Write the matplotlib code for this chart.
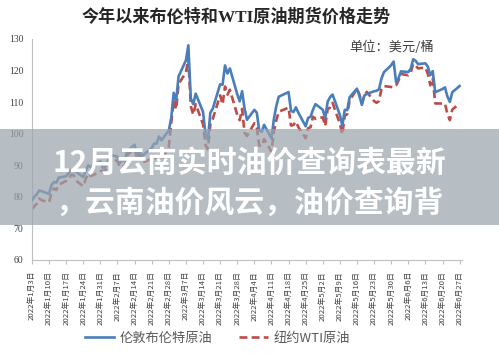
import numpy as np
import pandas as pd
import matplotlib
matplotlib.use("Agg")
import matplotlib.pyplot as plt
from matplotlib.patches import Rectangle

plt.rcParams['font.family'] = ['Noto Sans CJK SC', 'DejaVu Sans']

# trading days, Jan 3 - Jun 27 2022 (weekdays)
dates = pd.bdate_range("2022-01-03", "2022-06-27")

brent = [
    # Jan
    78.98, 80.00, 80.80, 81.99, 81.75, 80.87, 83.72, 84.67, 84.47, 86.06,
    86.48, 87.51, 88.44, 88.38, 87.89, 86.27, 88.20, 89.96, 89.34, 90.03, 91.21,
    # Feb
    89.16, 89.47, 91.11, 93.27, 92.69, 90.78, 91.55, 91.41, 94.44, 96.48,
    93.28, 94.81, 92.97, 93.54, 95.39, 96.84, 96.84, 99.08, 97.93, 100.99,
    # Mar
    104.97, 112.93, 110.46, 118.11, 123.21, 127.98, 111.14, 109.33, 112.67, 106.90,
    99.91, 98.02, 106.64, 107.93, 115.62, 115.48, 121.60, 119.03, 120.65, 112.48,
    110.23, 113.45, 107.91,
    # Apr
    104.39, 107.53, 106.64, 101.07, 100.58, 102.78, 98.48, 104.64, 108.78, 111.70,
    None, 113.16, 107.25, 106.80, 108.33, 106.65, 102.32, 104.99, 105.32, 107.59, 109.34,
    # May
    107.58, 104.97, 110.14, 111.55, 112.39, 105.94, 102.46, 107.51, 107.45, 111.55,
    114.24, 111.93, 109.11, 112.04, 112.55, 113.42, 113.56, 114.03, 117.40, 119.43,
    121.67, 122.84,
    # Jun
    116.29, 117.61, 119.72, 119.51, 120.57, 123.58, 123.07, 122.01, 122.27, 121.17,
    118.51, 119.81, 113.12, 114.13, 114.65, 111.74, 110.05, 113.12, 115.09,
]

wti = [
    # Jan
    76.08, 76.99, 77.85, 79.46, 78.90, 78.23, 81.22, 82.64, 82.12, 83.82,
    None, 85.43, 86.96, 86.90, 85.14, 83.31, 85.60, 87.35, 86.61, 86.82, 88.15,
    # Feb
    88.20, 88.26, 90.27, 92.31, 91.32, 89.36, 89.66, 89.88, 93.10, 95.46,
    92.07, 93.66, 91.76, 91.07, None, 92.35, 92.10, 92.81, 91.59, 95.72,
    # Mar
    103.41, 110.60, 107.67, 115.68, 119.40, 123.70, 108.70, 106.02, 109.33, 103.01,
    96.44, 95.04, 102.98, 104.70, 112.12, 109.27, 114.93, 112.34, 113.90, 105.96,
    104.24, 107.82, 100.28,
    # Apr
    99.27, 103.28, 101.96, 96.23, 96.03, 98.26, 94.29, 100.60, 104.25, 106.95,
    None, 108.21, 102.56, 102.75, 103.79, 102.07, 98.54, 101.70, 102.02, 105.36, 104.69,
    # May
    105.17, 102.41, 107.81, 108.26, 109.77, 103.09, 99.76, 105.71, 106.13, 110.49,
    114.20, 112.40, 109.59, 112.21, 113.23, 110.29, 109.77, 110.33, 114.09, 115.07,
    None, 114.67,
    # Jun
    115.26, 116.87, 118.87, 118.50, 119.41, 122.11, 121.51, 120.67, 120.93, 118.93,
    115.31, 117.59, 109.56, None, 109.52, 106.19, 104.27, 107.62, 109.57,
]

series_names = ["伦敦布伦特原油", "纽约WTI原油"]
title = "今年以来布伦特和WTI原油期货价格走势"
unit = "单位：美元/桶"
overlay = ["12月云南实时油价查询表最新", "，云南油价风云，油价查询背"]

b = np.array(brent, dtype=float)
w = np.array(wti, dtype=float)

fig = plt.figure(figsize=(4.99, 3.57), dpi=100)
ax = fig.add_axes([0.064, 0.272, 0.862, 0.619])

mb = ~np.isnan(b)
mw = ~np.isnan(w)
ax.plot(dates[mb], b[mb], color="#4A7EBB", lw=1.9, label=series_names[0], zorder=3)
ax.plot(dates[mw], w[mw], color="#BE4B48", lw=1.9, ls=(0, (3, 1.6)), label=series_names[1], zorder=2)

ax.set_ylim(60, 130)
ax.set_yticks(range(60, 131, 10))
ax.set_xlim(pd.Timestamp("2022-01-03"), pd.Timestamp("2022-06-28"))
ticks = pd.date_range("2022-01-03", "2022-06-27", freq="7D")
ax.set_xticks(ticks)
ax.set_xticklabels([f"{d.year}年{d.month}月{d.day}日" for d in ticks],
                   rotation=90, fontsize=5.6, color="#404040")

for s in ["top", "right"]:
    ax.spines[s].set_visible(False)
for s in ["left", "bottom"]:
    ax.spines[s].set_color("#BFBFBF")
    ax.spines[s].set_linewidth(0.8)
ax.tick_params(axis="y", length=0, pad=6, labelsize=7, labelcolor="#404040")
for lbl in ax.get_yticklabels():
    lbl.set_family(["Liberation Serif", "DejaVu Sans"])
ax.tick_params(axis="x", length=3, width=0.8, color="#BFBFBF", pad=5)

fig.text(0.473, 0.952, title, ha="center", va="center", fontsize=12.3,
         fontweight="bold", color="#262626",
         family=["Liberation Serif", "Noto Sans CJK SC"])
fig.text(0.785, 0.868, unit, ha="center", va="center", fontsize=9.5, color="#404040")

fig.legend(loc="center", bbox_to_anchor=(0.436, 0.053), ncol=2, frameon=False,
           fontsize=9.5, handlelength=2.2, columnspacing=2.0, handletextpad=0.4,
           labelcolor="#595959")

# grey banner with caption across the middle
fig.patches.append(Rectangle((0, 0.37), 1, 0.269, transform=fig.transFigure,
                             facecolor="#9aa4ac", alpha=0.72, edgecolor="none", zorder=5))
fig.text(0.5, 0.543, overlay[0], ha="center", va="center", fontsize=21.5,
         fontweight="bold", color="white", zorder=6)
fig.text(0.5, 0.432, overlay[1], ha="center", va="center", fontsize=21.5,
         fontweight="bold", color="white", zorder=6)

fig.savefig("out.png", dpi=100)
